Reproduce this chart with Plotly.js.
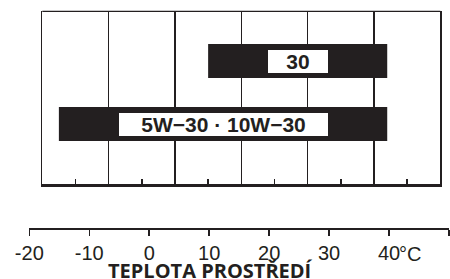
<!DOCTYPE html>
<html>
<head>
<meta charset="utf-8">
<script src="https://cdn.plot.ly/plotly-3.0.1.min.js"></script>
<style>html,body{margin:0;padding:0;background:#fff;}#chart{width:450px;height:279px;}</style>
</head>
<body>
<div id="chart"></div>
<script>
// Data
var grades = ['5W\u221230 \u00b7 10W\u221230', '30'];
var tempMin = [-15, 10];          // °C
var tempMax = [40, 40];           // °C
var celsiusTicks = [-20, -10, 0, 10, 20, 30, 40, 50];
var celsiusTickText = ['-20', '-10', '0', '10', '20', '30', '40', ''];
var fahrenheitRange = [0, 120];   // upper frame in °F, grid every 20 °F, minor every 10 °F
var axisTitle = 'TEPLOTA PROSTŘEDÍ';
var unitLabel = '°C';

var ink = '#231f20';
function fToC(f) { return (f - 32) * 5 / 9; }

var spans = tempMax.map(function (v, i) { return v - tempMin[i]; });
var mids = tempMax.map(function (v, i) { return (v + tempMin[i]) / 2; });
var boxW = [209, 60];

var traces = [
  {
    type: 'bar', orientation: 'h',
    y: grades, x: spans, base: tempMin,
    width: 0.54,
    marker: {color: ink, line: {width: 0}},
    hoverinfo: 'skip', xaxis: 'x', yaxis: 'y'
  },
  {
    type: 'scatter', mode: 'markers',
    x: [celsiusTicks[0], celsiusTicks[celsiusTicks.length - 1]], y: [0, 0],
    marker: {opacity: 0}, hoverinfo: 'skip', xaxis: 'x2', yaxis: 'y2'
  }
];

var annotations = grades.map(function (g, i) {
  return {
    x: mids[i], y: i, xref: 'x', yref: 'y',
    text: '<b>' + g + '</b>', showarrow: false,
    bgcolor: '#ffffff', borderpad: 0, borderwidth: 0,
    width: boxW[i], height: 23,
    font: {family: 'Liberation Sans, Arial, sans-serif', size: 21, color: ink},
    xanchor: 'center', yanchor: 'middle'
  };
});
annotations.push({
  x: 41.4, y: 0.1839, xref: 'x2', yref: 'paper', yshift: -26,
  text: unitLabel, showarrow: false, xanchor: 'left', yanchor: 'middle',
  font: {family: 'Liberation Sans, Arial, sans-serif', size: 20, color: ink}
});
annotations.push({
  x: 210 / 450, y: 0.032, xref: 'paper', yref: 'paper',
  text: '<b>' + axisTitle + '</b>', showarrow: false, xanchor: 'center', yanchor: 'middle',
  font: {family: 'Open Sans, sans-serif', size: 20, color: ink}
});

var layout = {
  width: 450, height: 279,
  margin: {l: 0, r: 0, t: 0, b: 0},
  paper_bgcolor: '#ffffff', plot_bgcolor: '#ffffff',
  showlegend: false,
  xaxis: {
    domain: [42.3 / 450, 440.3 / 450],
    range: [fToC(fahrenheitRange[0]), fToC(fahrenheitRange[1])],
    tickmode: 'linear', tick0: fToC(0), dtick: fToC(20) - fToC(0),
    showgrid: true, gridcolor: ink, gridwidth: 1.3,
    showticklabels: false, ticks: '',
    zeroline: false,
    showline: true, linecolor: ink, linewidth: 2.5,
    minor: {tickmode: 'linear', tick0: fToC(0), dtick: fToC(10) - fToC(0),
            ticks: 'inside', ticklen: 5, tickwidth: 1.5, tickcolor: ink, showgrid: false},
    anchor: 'y', fixedrange: true
  },
  yaxis: {
    domain: [1 - 184.3 / 279, 1 - 11.3 / 279],
    type: 'category', range: [-0.957, 1.789],
    showgrid: false, showticklabels: false, ticks: '', zeroline: false,
    showline: true, mirror: true, linecolor: ink, linewidth: 1.3,
    anchor: 'x', fixedrange: true
  },
  xaxis2: {
    domain: [29.3 / 450, 449 / 450],
    range: [celsiusTicks[0], celsiusTicks[celsiusTicks.length - 1]],
    tickmode: 'array', tickvals: celsiusTicks, ticktext: celsiusTickText,
    ticks: 'outside', ticklen: 6, tickwidth: 1.5, tickcolor: ink,
    showline: true, linecolor: ink, linewidth: 2,
    showgrid: false, zeroline: false,
    tickfont: {family: 'Liberation Sans, Arial, sans-serif', size: 20, color: ink},
    anchor: 'y2', fixedrange: true
  },
  yaxis2: {
    domain: [0.1839, 0.25], visible: false, anchor: 'x2', fixedrange: true
  },
  shapes: [{
    type: 'line', xref: 'x domain', yref: 'y domain',
    x0: 0, x1: 1, y0: 1, y1: 1,
    line: {color: ink, width: 1.3}
  }],
  annotations: annotations
};

Plotly.newPlot('chart', traces, layout, {displayModeBar: false, staticPlot: true});
</script>
</body>
</html>
